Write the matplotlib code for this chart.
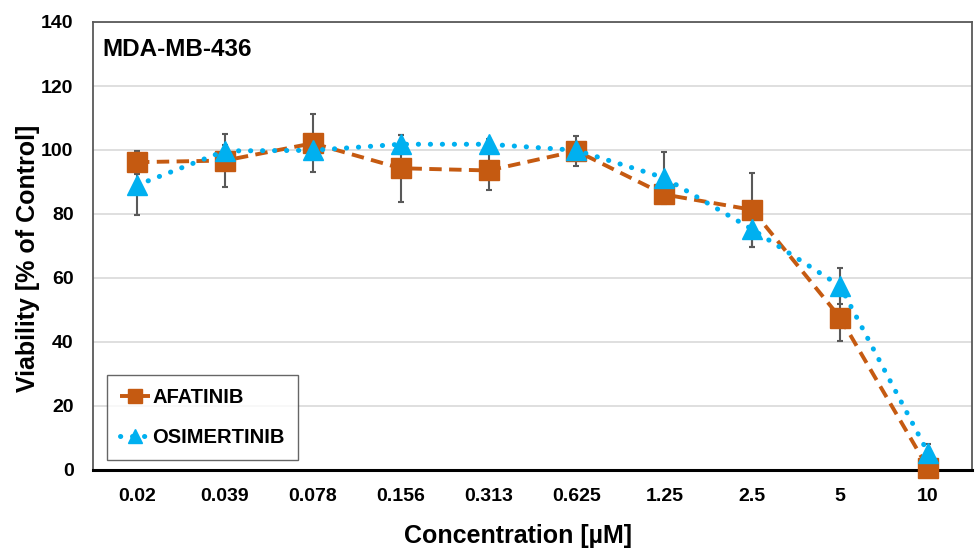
import matplotlib
matplotlib.use("Agg")
import matplotlib.pyplot as plt
import numpy as np

categories = ["0.02", "0.039", "0.078", "0.156", "0.313", "0.625", "1.25", "2.5", "5", "10"]
afatinib = [96.2, 96.7, 102.1, 94.3, 93.6, 99.7, 86.1, 81.3, 47.6, 0.6]
afatinib_err = [3.6, 8.3, 9.1, 10.5, 6.2, 4.6, 1.5, 11.5, 7.3, 0.5]
osimertinib = [89.0, 99.7, 99.9, 101.8, 101.8, 99.9, 91.3, 75.2, 57.5, 5.4]
osimertinib_err = [9.4, 2.0, 2.0, 2.9, 1.5, 2.0, 8.2, 5.4, 5.7, 2.8]
yticks = [0, 20, 40, 60, 80, 100, 120, 140]

plt.rcParams['font.family'] = ['Liberation Sans', 'DejaVu Sans']

fig = plt.figure(figsize=(9.75, 5.48), dpi=100)
ax = fig.add_axes([93/975, 78/548, (972-93)/975, (469-21)/548])

x = np.arange(len(categories))
orange = "#C55A11"
blue = "#00B0F0"

ax.errorbar(x, afatinib, yerr=afatinib_err, fmt='none', ecolor='#595959',
            elinewidth=1.5, capsize=2.2, capthick=1.5, zorder=2)
ax.errorbar(x, osimertinib, yerr=osimertinib_err, fmt='none', ecolor='#595959',
            elinewidth=1.5, capsize=2.2, capthick=1.5, zorder=2)

ax.plot(x, afatinib, color=orange, linestyle=(0, (3.2, 1.9)), linewidth=2.8,
        marker='s', markersize=14, markerfacecolor=orange, markeredgecolor=orange,
        label='AFATINIB', zorder=3, clip_on=False)
ax.plot(x, osimertinib, color=blue, linestyle=(0, (0.05, 2.35)), linewidth=3.6,
        dash_capstyle='round', marker='^', markersize=14,
        markerfacecolor=blue, markeredgecolor=blue, label='OSIMERTINIB', zorder=4,
        clip_on=False)

ax.set_xlim(-0.5, 9.5)
ax.set_ylim(0, 140)
ax.set_yticks(yticks)
ax.set_xticks(x)
ax.set_xticklabels(categories)
ax.tick_params(axis='both', length=0, labelsize=14)
ax.tick_params(axis='x', pad=13)
ax.tick_params(axis='y', pad=14)
for lbl in ax.get_xticklabels() + ax.get_yticklabels():
    lbl.set_fontweight('bold')
ax.yaxis.grid(True, color='#D9D9D9', linewidth=1.2)
ax.set_axisbelow(True)

for s in ['top', 'right', 'left']:
    ax.spines[s].set_color('#595959')
    ax.spines[s].set_linewidth(1.3)
ax.spines['bottom'].set_color('black')
ax.spines['bottom'].set_linewidth(2.2)
ax.spines['bottom'].set_zorder(2.5)

ax.set_xlabel('Concentration [µM]', fontsize=18, fontweight='bold')
ax.set_ylabel('Viability [% of Control]', fontsize=18, fontweight='bold')
ax.xaxis.set_label_coords((518 - 93) / 879, (469 - 523) / 448)
ax.yaxis.set_label_coords((40 - 93) / 879, (469 - 257) / 448)

ax.text(0.011, 0.965, 'MDA-MB-436', transform=ax.transAxes, fontsize=17.5,
        fontweight='bold', va='top', ha='left')

leg = ax.legend(loc='lower left', bbox_to_anchor=(14/879, 10/448),
                prop={'weight': 'bold', 'size': 14.5}, frameon=True, fancybox=False,
                edgecolor='#404040', handlelength=1.5, handletextpad=0.1,
                markerscale=0.7, borderpad=0.65, labelspacing=1.05, borderaxespad=0)
leg.get_frame().set_linewidth(1.0)

fig.savefig('out.png', dpi=100)
